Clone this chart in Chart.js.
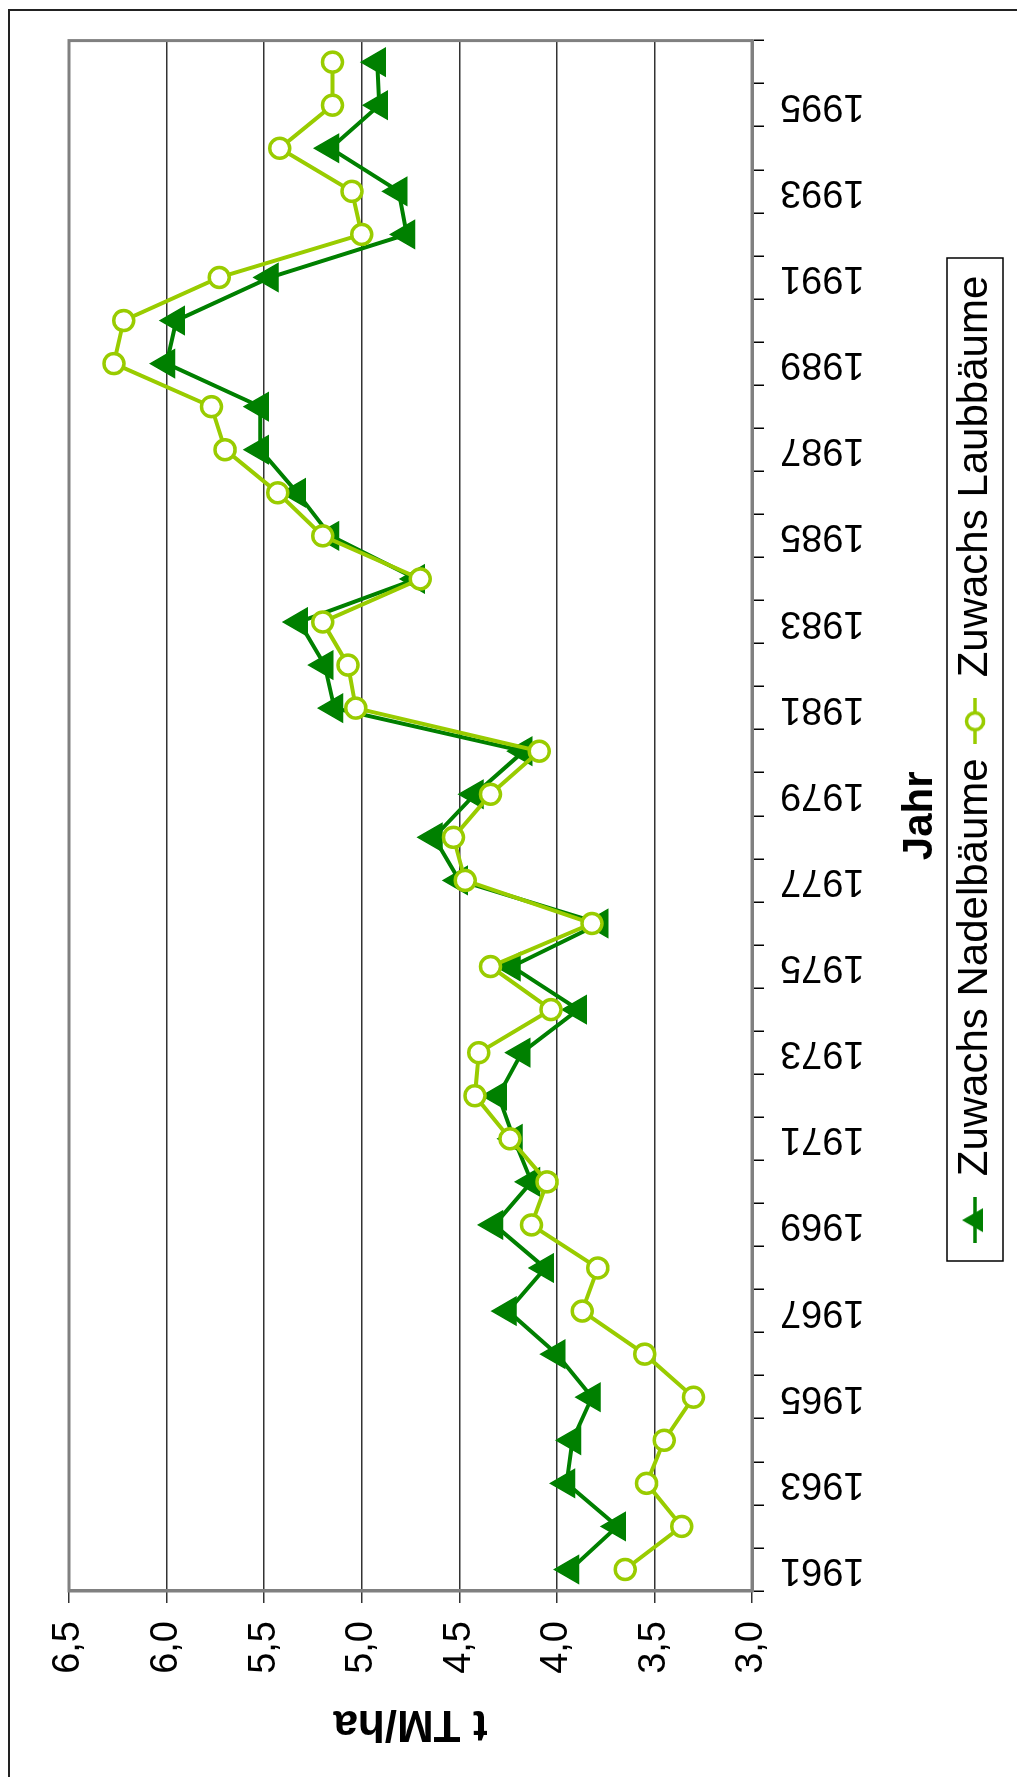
<!DOCTYPE html>
<html>
<head>
<meta charset="utf-8">
<script src="https://cdn.jsdelivr.net/npm/chart.js@4.4.1/dist/chart.umd.min.js"></script>
<style>
  html, body { margin: 0; padding: 0; background: #fff; overflow: hidden; }
  /* chart is laid out landscape, then turned a quarter left like the scan */
  #wrap { position: absolute; left: 0; top: 0; width: 1777px; height: 1017px;
          transform-origin: 0 0; transform: translate(0, 1777px) rotate(-90deg); }
  #frame { position: absolute; left: -10px; top: 8px; width: 1778px; height: 1020px;
           box-sizing: border-box; border-top: 2px solid #222; border-right: 2px solid #222; }
  #c { position: absolute; left: 0; top: 0; }
</style>
</head>
<body>
<div id="wrap">
  <div id="frame"></div>
  <canvas id="c" width="1777" height="1017"></canvas>
</div>
<script>
var years = ['1961','1962','1963','1964','1965','1966','1967','1968','1969','1970',
             '1971','1972','1973','1974','1975','1976','1977','1978','1979','1980',
             '1981','1982','1983','1984','1985','1986','1987','1988','1989','1990',
             '1991','1992','1993','1994','1995','1996'];
var nadel = [3.93, 3.69, 3.95, 3.92, 3.82, 4.00, 4.25, 4.06, 4.32, 4.13,
             4.22, 4.30, 4.18, 3.89, 4.23, 3.78, 4.50, 4.63, 4.42, 4.17,
             5.14, 5.19, 5.32, 4.72, 5.16, 5.33, 5.52, 5.52, 6.00, 5.95,
             5.47, 4.77, 4.81, 5.16, 4.91, 4.92];
var laub  = [3.65, 3.36, 3.54, 3.45, 3.30, 3.55, 3.87, 3.79, 4.13, 4.05,
             4.24, 4.42, 4.40, 4.03, 4.34, 3.82, 4.47, 4.53, 4.34, 4.09,
             5.03, 5.07, 5.20, 4.70, 5.20, 5.43, 5.70, 5.77, 6.27, 6.22,
             5.73, 5.00, 5.05, 5.42, 5.15, 5.15];
var seriesNames = ['Zuwachs Nadelbäume', 'Zuwachs Laubbäume'];
var yMin = 3.0, yMax = 6.5, yStep = 0.5;

var FONT = '"Liberation Sans", Arial, sans-serif';
var darkGreen = '#008000';
var lightGreen = '#99CC00';
Chart.defaults.font.family = FONT;
Chart.defaults.color = '#000';

// legend samples: a short line with the marker on it
function sample(color, kind) {
  var c = document.createElement('canvas');
  c.width = 46; c.height = 32;
  var g = c.getContext('2d');
  g.strokeStyle = color; g.lineWidth = 3.5;
  g.beginPath(); g.moveTo(0, 16); g.lineTo(46, 16); g.stroke();
  if (kind === 'tri') {
    g.fillStyle = color;
    g.beginPath(); g.moveTo(23, 3); g.lineTo(35, 24); g.lineTo(11, 24); g.closePath(); g.fill();
  } else {
    g.fillStyle = '#fff';
    g.beginPath(); g.arc(23, 16, 8.5, 0, Math.PI * 2); g.fill(); g.stroke();
  }
  return c;
}
var samples = [sample(darkGreen, 'tri'), sample(lightGreen, 'circ')];

var legendFont = 42, legendPad = 14;

var framePlugin = {
  id: 'framePlugin',
  beforeDraw: function(chart) {
    var lg = chart.legend;
    lg.left = 516; lg.right = 1519;
    lg.top = 975 - legendPad - legendFont / 2;
  },
  beforeDatasetsDraw: function(chart) {
    var a = chart.chartArea, ctx = chart.ctx;
    ctx.save();
    ctx.strokeStyle = '#808080'; ctx.lineWidth = 3;
    ctx.strokeRect(a.left, a.top, a.right - a.left, a.bottom - a.top);
    ctx.restore();
  },
  afterDraw: function(chart) {
    var ctx = chart.ctx;
    ctx.save();
    ctx.strokeStyle = '#000'; ctx.lineWidth = 1.5;
    ctx.strokeRect(516, 947, 1003, 56);
    ctx.restore();
  }
};

var ctx = document.getElementById('c');
var chart = new Chart(ctx, {
  type: 'line',
  data: {
    labels: years,
    datasets: [{
      label: seriesNames[0],
      data: nadel,
      order: 1,
      borderColor: darkGreen,
      backgroundColor: darkGreen,
      borderWidth: 4,
      pointStyle: 'triangle',
      pointRadius: 16,
      pointBorderWidth: 1.5,
      pointBackgroundColor: darkGreen,
      pointBorderColor: darkGreen,
      tension: 0
    }, {
      label: seriesNames[1],
      data: laub,
      order: 0,
      borderColor: lightGreen,
      backgroundColor: '#fff',
      borderWidth: 4,
      pointStyle: 'circle',
      pointRadius: 10,
      pointBorderWidth: 3.5,
      pointBackgroundColor: '#fff',
      pointBorderColor: lightGreen,
      tension: 0
    }]
  },
  options: {
    responsive: false,
    animation: false,
    events: [],
    layout: { padding: { left: 0, right: 38, top: 69, bottom: 0 } },
    plugins: {
      tooltip: { enabled: false },
      legend: {
        position: 'bottom',
        labels: {
          usePointStyle: true,
          pointStyleWidth: 46,
          padding: legendPad,
          color: '#000',
          font: { size: legendFont },
          sort: function(a, b) { return a.datasetIndex - b.datasetIndex; },
          generateLabels: function(ch) {
            var items = Chart.defaults.plugins.legend.labels.generateLabels(ch);
            items.forEach(function(it) { it.pointStyle = samples[it.datasetIndex]; });
            return items;
          }
        }
      }
    },
    scales: {
      x: {
        type: 'category',
        offset: true,
        grid: { display: true, drawOnChartArea: false, offset: true, tickLength: 12, color: '#000', lineWidth: 1.5 },
        border: { display: true, color: '#808080', width: 3 },
        ticks: {
          autoSkip: false, minRotation: 90, maxRotation: 90, padding: 16,
          font: { size: 38 }, color: '#000',
          callback: function(v, i) { return i % 2 === 0 ? years[i] : ''; }
        },
        title: { display: true, text: 'Jahr', color: '#000',
                 font: { size: 42, weight: 'bold' }, padding: { top: 0, bottom: 5 } },
        afterFit: function(s) { s.height = 1017 - 752 - s.chart.legend.height; }
      },
      y: {
        min: yMin, max: yMax,
        grid: { color: '#333', lineWidth: 1.5, tickLength: 12 },
        border: { display: true, color: '#808080', width: 3 },
        ticks: {
          stepSize: yStep, padding: 18, font: { size: 38 }, color: '#000',
          callback: function(v) { return v.toFixed(1).replace('.', ','); }
        },
        title: { display: true, text: 't TM/ha', color: '#000',
                 font: { size: 44, weight: 'bold' }, padding: { top: 27, bottom: 0 } },
        afterFit: function(s) { s.width = 186; }
      }
    }
  },
  plugins: [framePlugin]
});
</script>
</body>
</html>
